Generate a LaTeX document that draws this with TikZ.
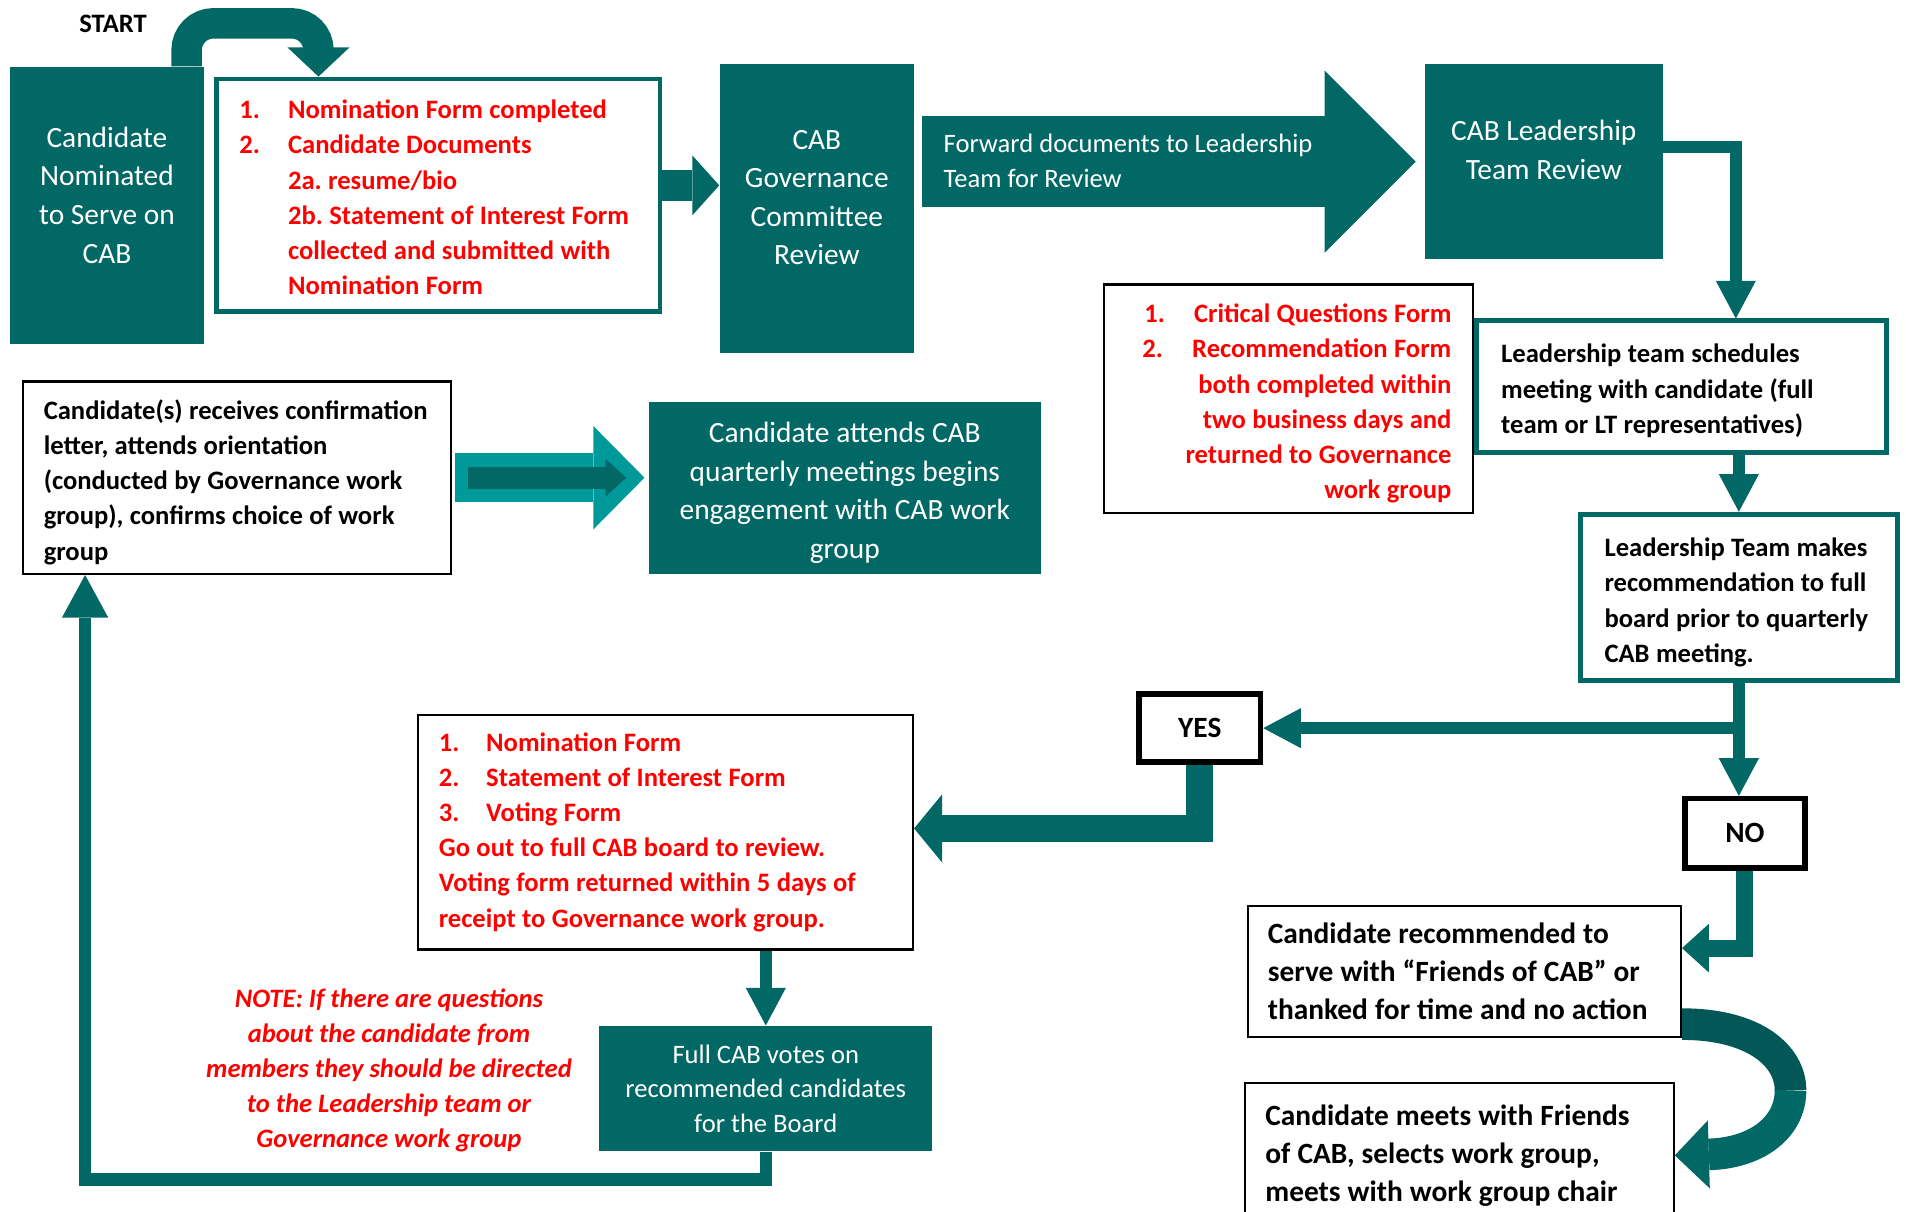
\documentclass[tikz,border=0pt]{standalone}
\usepackage{fontspec}
\setmainfont{Carlito}
\usetikzlibrary{arrows.meta,calc}
\definecolor{tealA}{HTML}{026866}
\definecolor{tealL}{HTML}{009999}
\definecolor{tealD}{HTML}{045757}
\definecolor{redA}{HTML}{FF0000}
\newdimen\ux \ux=0.6078pt
\frenchspacing
\newcommand\bsp{\spaceskip=0.24em\relax\xspaceskip=0.24em\relax}
\newcommand\fsS{\fontsize{13.3pt}{17.6pt}\selectfont}
\newcommand\fsL{\fontsize{14.7pt}{19.3pt}\selectfont}
\newcommand\fsR{\fontsize{14.7pt}{19.1pt}\selectfont}
\newcommand\fsF{\fontsize{13.3pt}{17.3pt}\selectfont}
\newcommand\fst[1]{\rule{0pt}{#1}}
\tikzset{
  tealbox/.style={fill=tealA, draw=none, inner sep=0pt},
  wtext/.style={text=white, align=center, inner sep=0pt},
  tbox/.style={draw=tealA, line width=4\ux, fill=white, font=\fsS\bfseries, align=left, inner ysep=0pt},
  bbox/.style={draw=black, line width=2\ux, fill=white, font=\fsS\bfseries, align=left, inner ysep=0pt},
  decbox/.style={draw=black, line width=4.5\ux, fill=white, font=\fsL\bfseries, inner sep=0pt},
  conn/.style={draw=tealA, line width=10\ux, -{Triangle[width=20.06pt,length=18.84pt,line width=0pt]}},
}
\begin{document}
\begin{tikzpicture}[x=0.6078pt, y=-0.6078pt]
\useasboundingbox (0,0) rectangle (1568,997);

% ---------- nodes ----------
\node[font=\fsS\bfseries, inner sep=0pt] (start) at (93,20) {START};

\node[tealbox, minimum width=160\ux, minimum height=228\ux] (nom) at (88,169) {};
\node[wtext, font=\fsL] (nomT) at (88,160.5) {Candidate\\Nominated\\to Serve on\\CAB};

\node[tbox, text=redA, minimum width=365\ux, minimum height=191\ux, inner xsep=19\ux, text width=327\ux] (form1) at (360.5,160.5)
 {\bsp\mbox{\fst{11.7pt}\makebox[40\ux][l]{1.}Nomination Form completed}\\
  \mbox{\makebox[40\ux][l]{2.}Candidate Documents}\\
  \mbox{\hspace*{40\ux}2a. resume/bio}\\
  \mbox{\hspace*{40\ux}2b. Statement of Interest Form}\\
  \mbox{\hspace*{40\ux}collected and submitted with}\\
  \mbox{\hspace*{40\ux}Nomination Form}};

\node[tealbox, minimum width=160\ux, minimum height=237\ux] (gov) at (672,171.5) {};
\node[wtext, font=\fsL] (govT) at (672,162.5) {CAB\\Governance\\Committee\\Review};

\node[tealbox, minimum width=196\ux, minimum height=160\ux] (lead) at (1270,133) {};
\node[wtext, font=\fsL] (leadT) at (1270,123.5) {CAB Leadership\\Team Review};

\node[bbox, text=redA, align=right, minimum width=304\ux, minimum height=188\ux, inner xsep=18\ux, text width=268\ux] (crit) at (1060,328)
 {\bsp\mbox{\fst{14.2pt}1.\hspace{14.6pt}Critical Questions Form}\\
  \mbox{2.\hspace{14.6pt}Recommendation Form}\\
  \mbox{both completed within}\\
  \mbox{two business days and}\\
  \mbox{returned to Governance}\\
  \mbox{work group}};

\node[tbox, minimum width=337\ux, minimum height=108\ux, inner xsep=20\ux, text width=297\ux] (sched) at (1383.5,318)
 {\bsp\mbox{\fst{13.6pt}Leadership team schedules}\\
  \mbox{meeting with candidate (full}\\
  \mbox{team or LT representatives)}};

\node[tbox, minimum width=261\ux, minimum height=137\ux, inner xsep=20\ux, text width=221\ux] (makes) at (1430.5,491.5)
 {\bsp\mbox{\fst{14.2pt}Leadership Team makes}\\
  \mbox{recommendation to full}\\
  \mbox{board prior to quarterly}\\
  \mbox{CAB meeting.}};

\node[bbox, minimum width=352\ux, minimum height=158\ux, inner xsep=17\ux, text width=318\ux] (cand) at (195,393)
 {\bsp\mbox{\fst{14.2pt}Candidate(s) receives confirmation}\\
  \mbox{letter, attends orientation}\\
  \mbox{(conducted by Governance work}\\
  \mbox{group), confirms choice of work}\\
  \mbox{group}};

\node[tealbox, minimum width=322\ux, minimum height=141\ux] (attends) at (695,401.5) {};
\node[wtext, font=\fsL] (attT) at (695,405.5)
 {Candidate attends CAB\\quarterly meetings begins\\engagement with CAB work\\group};

\node[decbox, minimum width=100\ux, minimum height=56\ux] (yes) at (987,599) {YES};
\node[decbox, minimum width=99\ux, minimum height=57\ux] (no) at (1435.5,685.5) {NO};

\node[bbox, text=redA, minimum width=407\ux, minimum height=193\ux, inner xsep=17\ux, text width=373\ux] (vote) at (547.5,684.5)
 {\bsp\mbox{\makebox[39\ux][l]{1.}Nomination Form}\\
  \mbox{\makebox[39\ux][l]{2.}Statement of Interest Form}\\
  \mbox{\makebox[39\ux][l]{3.}Voting Form}\\
  \mbox{Go out to full CAB board to review.}\\
  \mbox{Voting form returned within 5 days of}\\
  \mbox{receipt to Governance work group.}};

\node[tealbox, minimum width=274\ux, minimum height=103\ux, text=white, font=\fsF, align=center] (full) at (630,895.5)
 {Full CAB votes on\\recommended candidates\\for the Board};

\node[font=\fsS\bfseries\itshape, text=redA, align=center, inner sep=0pt] (note) at (320,880.5)
 {NOTE: If there are questions\\about the candidate from\\members they should be directed\\to the Leadership team or\\Governance work group};

\node[bbox, line width=1.6\ux, font=\fsR\bfseries, minimum width=356\ux, minimum height=108\ux, inner xsep=16\ux, text width=324\ux] (rec) at (1205,799)
 {\bsp\mbox{Candidate recommended to}\\
  \mbox{serve with “Friends of CAB” or}\\
  \mbox{thanked for time and no action}};

\node[bbox, line width=1.6\ux, font=\fsR\bfseries, minimum width=353\ux, minimum height=119\ux, inner xsep=17\ux, text width=319\ux] (meets) at (1200.5,950.5)
 {\bsp\mbox{Candidate meets with Friends}\\
  \mbox{of CAB, selects work group,}\\
  \mbox{meets with work group chair}};

% ---------- connectors ----------
\draw[tealA, line width=25\ux, rounded corners=13.37pt, -{Triangle[width=31pt,length=14.59pt,line width=0pt]}]
  ($(nom.north)+(65.5,0)$) -- ++(0,-35.5) -| ($(form1.north)+(-98.5,0)$);

\draw[tealA, line width=25\ux, -{Triangle[width=29.78pt,length=13.37pt,line width=0pt]}]
  ($(form1.east)+(0,-8)$) -- ($(form1.east -| gov.west)+(0,-8)$);

\draw[tealA, line width=75\ux, -{Triangle[width=91.17pt,length=45.59pt,line width=0pt]}]
  ($(gov.east |- lead.west)+(6,0)$) -- ($(lead.west)+(-7,0)$);
\node[font=\fsS, text=white, align=left, anchor=west, inner sep=0pt] (fwdT) at (776,132.5)
 {Forward documents to Leadership\\Team for Review};

\draw[conn] ($(lead.east)+(0,-12)$) -| ($(sched.north)+(44.5,0)$);
\draw[conn] (sched.south -| makes.north) -- (makes.north);
\draw[conn] (makes.south) -- (makes.south |- no.north);
\draw[conn] ($(makes.south |- yes.east)+(5,0)$) -- (yes.east);

\draw[tealA, line width=22\ux, -{Triangle[width=34.04pt,length=13.98pt,line width=0pt]}]
  (yes.south) |- ($(vote.east)+(0,-3)$);

\draw[conn] (vote.south -| full.north) -- (full.north);

\draw[conn, -{Triangle[width=23.1pt,length=21.27pt,line width=0pt]}]
  (full.south) -- ++(0,23) -| ($(cand.south)+(-125,0)$);

\draw[tealL, line width=40\ux, -{Triangle[width=51.66pt,length=25.53pt,line width=0pt]}]
  ($(cand.east)+(2,0)$) -- ($(cand.east -| attends.west)+(-3.5,0)$);
\draw[tealA, line width=18\ux, -{Triangle[width=18.84pt,length=10.33pt,line width=0pt]}]
  ($(cand.east)+(13,0)$) -- ($(cand.east -| attends.west)+(-18.5,0)$);

\draw[tealA, line width=14\ux, -{Triangle[width=24.31pt,length=13.37pt,line width=0pt]}]
  (no.south) |- ($(rec.east)+(0,-19)$);

\coordinate (turn) at (1473,897);
\draw[tealD, line width=26\ux] ($(rec.east)+(0,43.5)$) .. controls +(60,0) and +(0,-28) .. (turn);
\draw[tealA, line width=26\ux, -{Triangle[width=34.04pt,length=17.02pt,line width=0pt]}]
  (turn) .. controls +(0,30) and +(68,-2) .. (meets.east);
\end{tikzpicture}
\end{document}
